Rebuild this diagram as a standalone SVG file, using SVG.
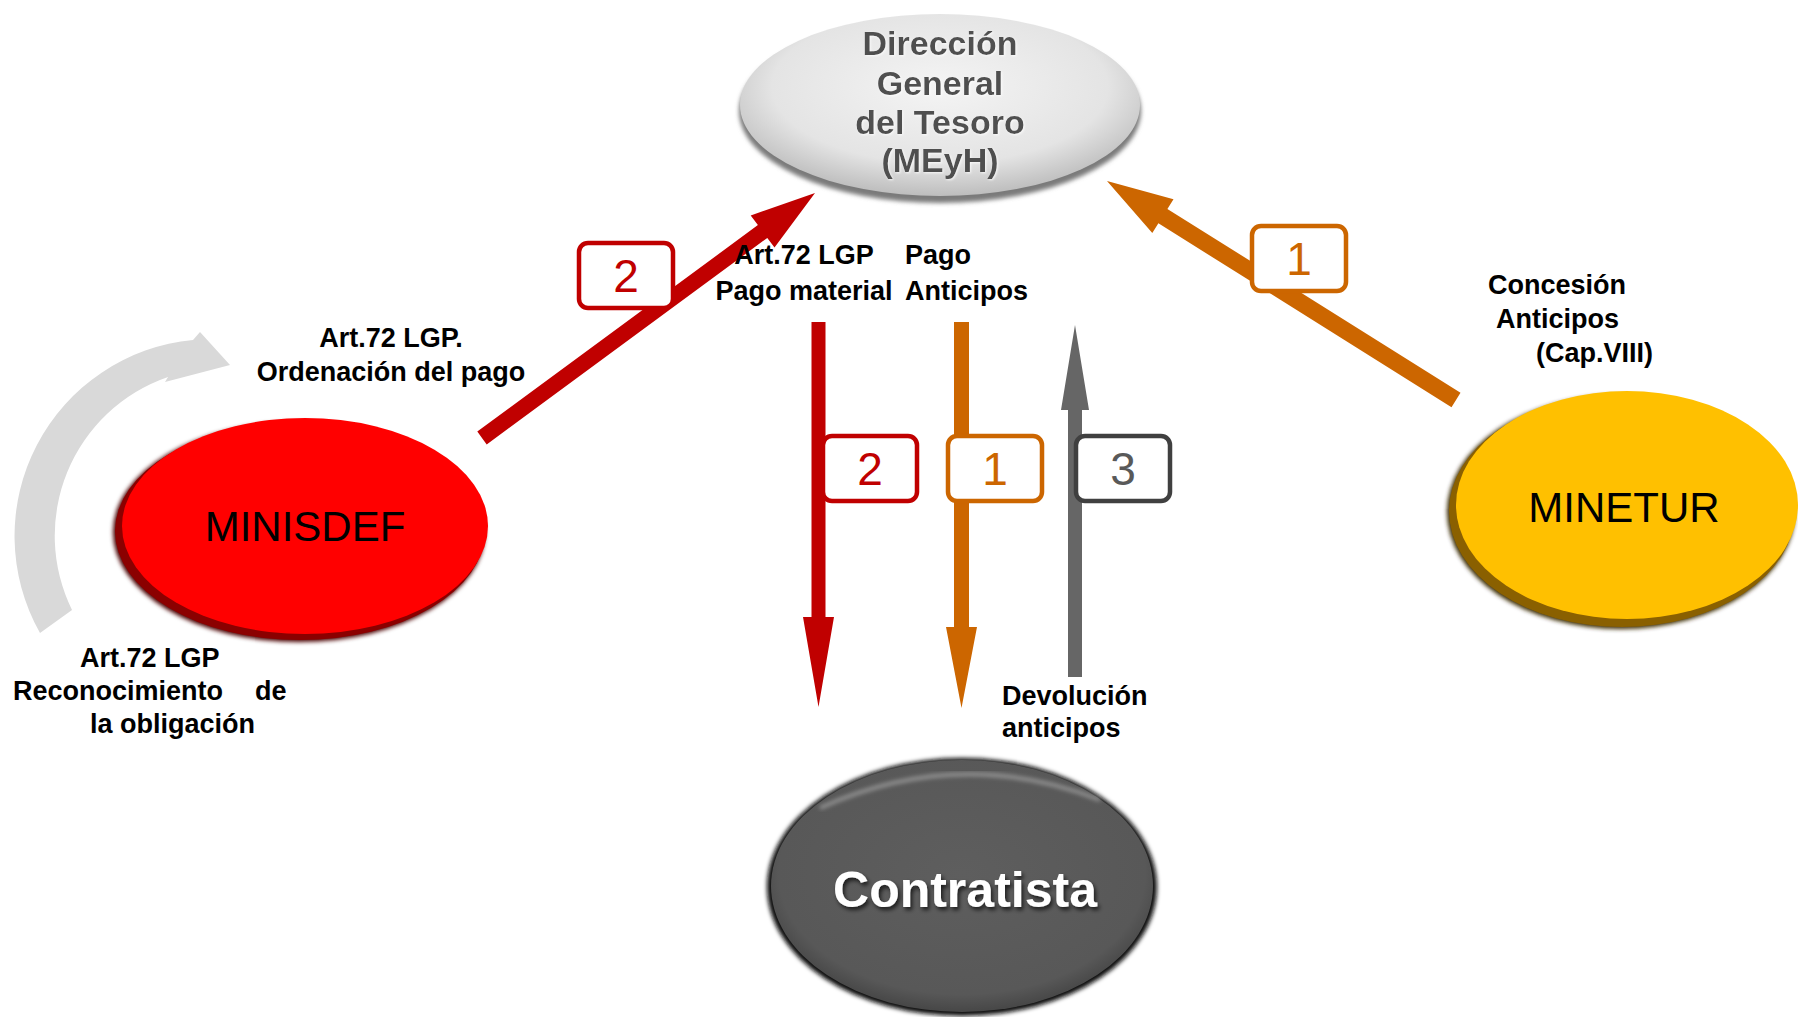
<svg xmlns="http://www.w3.org/2000/svg" width="1798" height="1017" viewBox="0 0 1798 1017">
<style>
.lbl{font-family:"Liberation Sans",Arial,sans-serif;font-weight:bold;font-size:27px;fill:#000}
.dgt{font-family:"Liberation Sans",Arial,sans-serif;font-weight:bold;font-size:34px;fill:#4f4f4f;text-anchor:middle}
.node{font-family:"Liberation Sans",Arial,sans-serif;font-size:42px;fill:#000;text-anchor:middle}
.badge{fill:#fff;stroke-width:4.5}
.num{font-family:"Liberation Sans",Arial,sans-serif;font-size:46px;text-anchor:middle}
.red{fill:#C00000}
.orange{fill:#CC6600}
.grey{fill:#666666}
</style>
<defs>
<filter id="soft" x="-10%" y="-10%" width="120%" height="120%"><feGaussianBlur stdDeviation="2"/></filter>
<filter id="tshadow" x="-10%" y="-20%" width="120%" height="140%"><feDropShadow dx="2" dy="3" stdDeviation="2" flood-color="#000" flood-opacity="0.7"/></filter>
<filter id="halo" x="-10%" y="-20%" width="120%" height="140%"><feDropShadow dx="1" dy="1" stdDeviation="0.8" flood-color="#fff" flood-opacity="0.8"/></filter>
<radialGradient id="gDgt" cx="50%" cy="40%" r="60%">
<stop offset="0" stop-color="#f4f4f4"/><stop offset="0.7" stop-color="#e4e4e4"/><stop offset="1" stop-color="#bdbdbd"/>
</radialGradient>
<radialGradient id="gCon" cx="50%" cy="45%" r="60%">
<stop offset="0" stop-color="#5e5e5e"/><stop offset="0.8" stop-color="#585858"/><stop offset="1" stop-color="#3a3a3a"/>
</radialGradient>
</defs>

<g id="node-dgt">
<ellipse cx="940" cy="111" rx="201" ry="92" fill="#7a7a7a" filter="url(#soft)"/>
<ellipse cx="940" cy="105" rx="200" ry="91" fill="url(#gDgt)"/>
<text class="dgt" x="940" y="55" filter="url(#halo)">Dirección</text>
<text class="dgt" x="940" y="95" filter="url(#halo)">General</text>
<text class="dgt" x="940" y="134" filter="url(#halo)">del Tesoro</text>
<text class="dgt" x="940" y="172" filter="url(#halo)">(MEyH)</text>
</g>

<g id="node-minisdef">
<ellipse cx="299" cy="532" rx="186" ry="110" fill="#4a0000" filter="url(#soft)"/>
<ellipse cx="300" cy="531" rx="185" ry="109" fill="#8b0000"/>
<ellipse cx="305" cy="526" rx="183" ry="108" fill="#FF0000"/>
<text class="node" x="305" y="541">MINISDEF</text>
</g>

<g id="node-minetur">
<ellipse cx="1621" cy="512" rx="174" ry="117" fill="#3a2a00" filter="url(#soft)"/>
<ellipse cx="1622" cy="511" rx="173" ry="116" fill="#8a6000"/>
<ellipse cx="1627" cy="505" rx="171" ry="114" fill="#FFC000"/>
<text class="node" x="1624" y="522">MINETUR</text>
</g>

<g id="node-contratista">
<ellipse cx="962" cy="887" rx="195" ry="129" fill="#111" filter="url(#soft)"/>
<ellipse cx="962" cy="886" rx="191" ry="126" fill="url(#gCon)"/>
<path d="M 820 808 Q 960 745 1100 800" fill="none" stroke="#fff" stroke-opacity="0.35" stroke-width="4" filter="url(#soft)"/>
<text x="965" y="907" font-family="Liberation Sans, Arial, sans-serif" font-weight="bold" font-size="50" fill="#fff" text-anchor="middle" filter="url(#tshadow)">Contratista</text>
</g>

<g id="connectors">
<path id="loop-arrow" d="M 168 377 L 165 382 L 230 365 L 200 332 L 193 340 A 197 197 0 0 0 40 633 L 72 610 A 168 168 0 0 1 168 377 Z" fill="#d9d9d9"/>
<polygon id="arrow-minisdef-dgt" class="red" points="486.7,444.4 767.3,237.9 774.5,247.6 815,193 750.7,215.4 757.9,225.1 477.3,431.6"/>
<polygon id="arrow-minetur-dgt" class="orange" points="1460.5,392.8 1167.4,208.9 1173.5,199.2 1107,181 1152.3,233 1158.4,223.3 1451.5,407.2"/>
<polygon id="arrow-pago-material" class="red" points="811.5,322 825.5,322 825.5,617 834,617 818.5,707 803,617 811.5,617"/>
<polygon id="arrow-pago-anticipos" class="orange" points="954,322 969,322 969,627 977,627 961.5,708 946,627 954,627"/>
<polygon id="arrow-devolucion" class="grey" points="1068,677 1082,677 1082,410 1089,410 1075,325 1061,410 1068,410"/>
</g>

<g id="badges">
<rect class="badge" x="579" y="243" width="94" height="65" rx="9" stroke="#C00000"/>
<text class="num red" x="626" y="292">2</text>
<rect class="badge" x="1252" y="226" width="94" height="65" rx="9" stroke="#CC6600"/>
<text class="num orange" x="1299" y="275">1</text>
<rect class="badge" x="823" y="436" width="94" height="65" rx="9" stroke="#C00000"/>
<text class="num red" x="870" y="485">2</text>
<rect class="badge" x="948" y="436" width="94" height="65" rx="9" stroke="#CC6600"/>
<text class="num orange" x="995" y="485">1</text>
<rect class="badge" x="1076" y="436" width="94" height="65" rx="9" stroke="#404040"/>
<text class="num" x="1123" y="485" fill="#595959">3</text>
</g>

<g id="labels">
<text class="lbl" x="391" y="347" text-anchor="middle">Art.72 LGP.</text>
<text class="lbl" x="391" y="381" text-anchor="middle">Ordenación del pago</text>
<text class="lbl" x="80" y="667">Art.72 LGP</text>
<text class="lbl" y="700"><tspan x="13">Reconocimiento </tspan><tspan x="255">de</tspan></text>
<text class="lbl" x="90" y="733">la obligación</text>
<text class="lbl" x="804" y="264" text-anchor="middle">Art.72 LGP</text>
<text class="lbl" x="804" y="300" text-anchor="middle">Pago material</text>
<text class="lbl" x="905" y="264">Pago</text>
<text class="lbl" x="905" y="300">Anticipos</text>
<text class="lbl" x="1488" y="294">Concesión</text>
<text class="lbl" x="1496" y="328">Anticipos</text>
<text class="lbl" x="1536" y="362">(Cap.VIII)</text>
<text class="lbl" x="1002" y="705">Devolución</text>
<text class="lbl" x="1002" y="737">anticipos</text>
</g>
</svg>
